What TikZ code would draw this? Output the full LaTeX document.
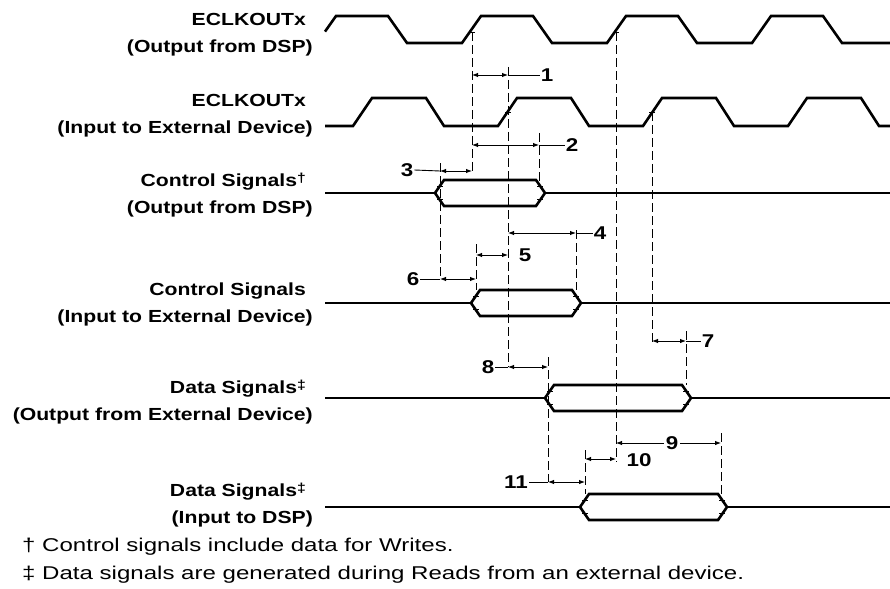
\documentclass[tikz,border=0pt]{standalone}
\usepackage{fontspec}
\setmainfont[FakeStretch=1.21]{Liberation Sans}
\newfontfamily\notefont[FakeStretch=1.3]{Liberation Sans}
\usetikzlibrary{arrows.meta}

% bus with a valid window: y, left tip, right tip
\newcommand{\sigbus}[3]{%
  \draw[sig] (325,#1) -- (#2,#1);
  \draw[sig] (#2,#1) -- ({#2+9},{#1-13}) -- ({#3-9},{#1-13}) -- (#3,#1)
    -- ({#3-9},{#1+13}) -- ({#2+9},{#1+13}) -- cycle;
  \draw[sig] (#3,#1) -- (890,#1);
  \draw[tick] ({#2+2},{#1-6.5}) -- ({#2+8},{#1-6.5}) ({#2+2},{#1+6.5}) -- ({#2+8},{#1+6.5});
  \draw[tick] ({#3-8},{#1-6.5}) -- ({#3-2},{#1-6.5}) ({#3-8},{#1+6.5}) -- ({#3-2},{#1+6.5});
}
\newcommand{\noteone}{\raisebox{4pt}{\fontsize{13}{13}\selectfont †}}
\newcommand{\notetwo}{\raisebox{4pt}{\fontsize{13}{13}\selectfont ‡}}

\begin{document}
\begin{tikzpicture}[x=1pt, y=-1pt,
    sig/.style={line width=2.6pt, line join=miter},
    tick/.style={line width=0.8pt},
    guide/.style={line width=0.9pt, dash pattern=on 9pt off 4pt},
    dim/.style={line width=0.9pt, {Latex[length=6pt,width=4.5pt]}-{Latex[length=6pt,width=4.5pt]}},
    lead/.style={line width=0.9pt},
    lbl/.style={anchor=east, align=right, inner sep=0pt, font=\bfseries\fontsize{17.5}{27}\selectfont},
    num/.style={inner sep=1pt, font=\bfseries\fontsize{18.5}{20}\selectfont},
    note/.style={anchor=west, inner sep=0pt, font=\notefont\fontsize{18.5}{20}\selectfont}]
  \useasboundingbox (0,0) rectangle (890,588);

  % Signal names
  \node[lbl] (clkdsp) at (313,34.5) {ECLKOUTx\hspace*{7pt}\\(Output from DSP)};
  \node[lbl] (clkext) at (313,115.5) {ECLKOUTx\hspace*{7pt}\\(Input to External Device)};
  \node[lbl] (ctldsp) at (313,195.5) {Control Signals\noteone\hspace*{7pt}\\(Output from DSP)};
  \node[lbl] (ctlext) at (313,304.5) {Control Signals\hspace*{7pt}\\(Input to External Device)};
  \node[lbl] (datext) at (313,402) {Data Signals\notetwo\hspace*{7pt}\\(Output from External Device)};
  \node[lbl] (datdsp) at (313,505.5) {Data Signals\notetwo\hspace*{7pt}\\(Input to DSP)};

  % Clocks
  \draw[sig] (325,31.6) -- (336,16)
    foreach \k in {0,1,2} { -- ({388+145*\k},16) -- ({407+145*\k},43) -- ({462+145*\k},43) -- ({481+145*\k},16) }
    -- (823,16) -- (842,43) -- (890,43);
  \draw[sig] (325,126)
    foreach \k in {0,1,2,3} { -- ({353+145*\k},126) -- ({372+145*\k},98) -- ({426+145*\k},98) -- ({444+145*\k},126) }
    -- (890,126);
  \draw[tick] (469,32) -- (475,32) (613,32) -- (619,32);
  \draw[tick] (505,112) -- (511,112) (649,112) -- (655,112);

  % Buses
  \sigbus{193}{435}{545}
  \sigbus{303}{471}{581}
  \sigbus{398}{545}{691}
  \sigbus{507}{580}{727}

  % Guide lines
  \draw[guide] (472,32) -- (472,171);
  \draw[guide] (508,67) -- (508,367);
  \draw[guide] (539,133) -- (539,181);
  \draw[guide] (440,163) -- (440,279);
  \draw[guide] (476,244) -- (476,290);
  \draw[guide] (576,230) -- (576,290);
  \draw[guide] (616,32) -- (616,462);
  \draw[guide] (652,112) -- (652,342);
  \draw[guide] (686,331) -- (686,385);
  \draw[guide] (548,357) -- (548,482);
  \draw[guide] (585,450) -- (585,494);
  \draw[guide] (721,433) -- (721,494);

  % Timing numbers
  \node[num] (n1) at (547,75) {1};
  \node[num] (n2) at (572,145) {2};
  \node[num] (n3) at (407,170) {3};
  \node[num] (n4) at (600,233) {4};
  \node[num] (n5) at (525,255) {5};
  \node[num] (n6) at (413,279) {6};
  \node[num] (n7) at (708,341) {7};
  \node[num] (n8) at (488,367) {8};
  \node[num] (n10) at (639,460) {10};
  \node[num] (n11) at (516,482) {11};

  % Dimension arrows
  \draw[dim] (472,75) -- (508,75);
  \draw[lead] (508,75) -- (n1.west);
  \draw[dim] (472,145) -- (539,145);
  \draw[lead] (539,145) -- (n2.west);
  \draw[lead] (n3.east) -- (440,171);
  \draw[dim] (440,171) -- (472,171);
  \draw[dim] (508,233) -- (576,233);
  \draw[lead] (576,233) -- (n4.west);
  \draw[dim] (476,255) -- (508,255);
  \draw[lead] (n6.east) -- (440,279);
  \draw[dim] (440,279) -- (476,279);
  \draw[dim] (652,341) -- (686,341);
  \draw[lead] (686,341) -- (n7.west);
  \draw[lead] (n8.east) -- (508,367);
  \draw[dim] (508,367) -- (548,367);
  \draw[dim] (616,443) -- (721,443);
  \node[num, fill=white, inner xsep=2pt] (n9) at (672,443) {9};
  \draw[dim] (585,459) -- (616,459);
  \draw[lead] (n11.east) -- (548,482);
  \draw[dim] (548,482) -- (585,482);

  % Footnotes
  \node[note] (fn1) at (22,547) {† Control signals include data for Writes.};
  \node[note] (fn2) at (22,575) {‡ Data signals are generated during Reads from an external device.};
\end{tikzpicture}
\end{document}
